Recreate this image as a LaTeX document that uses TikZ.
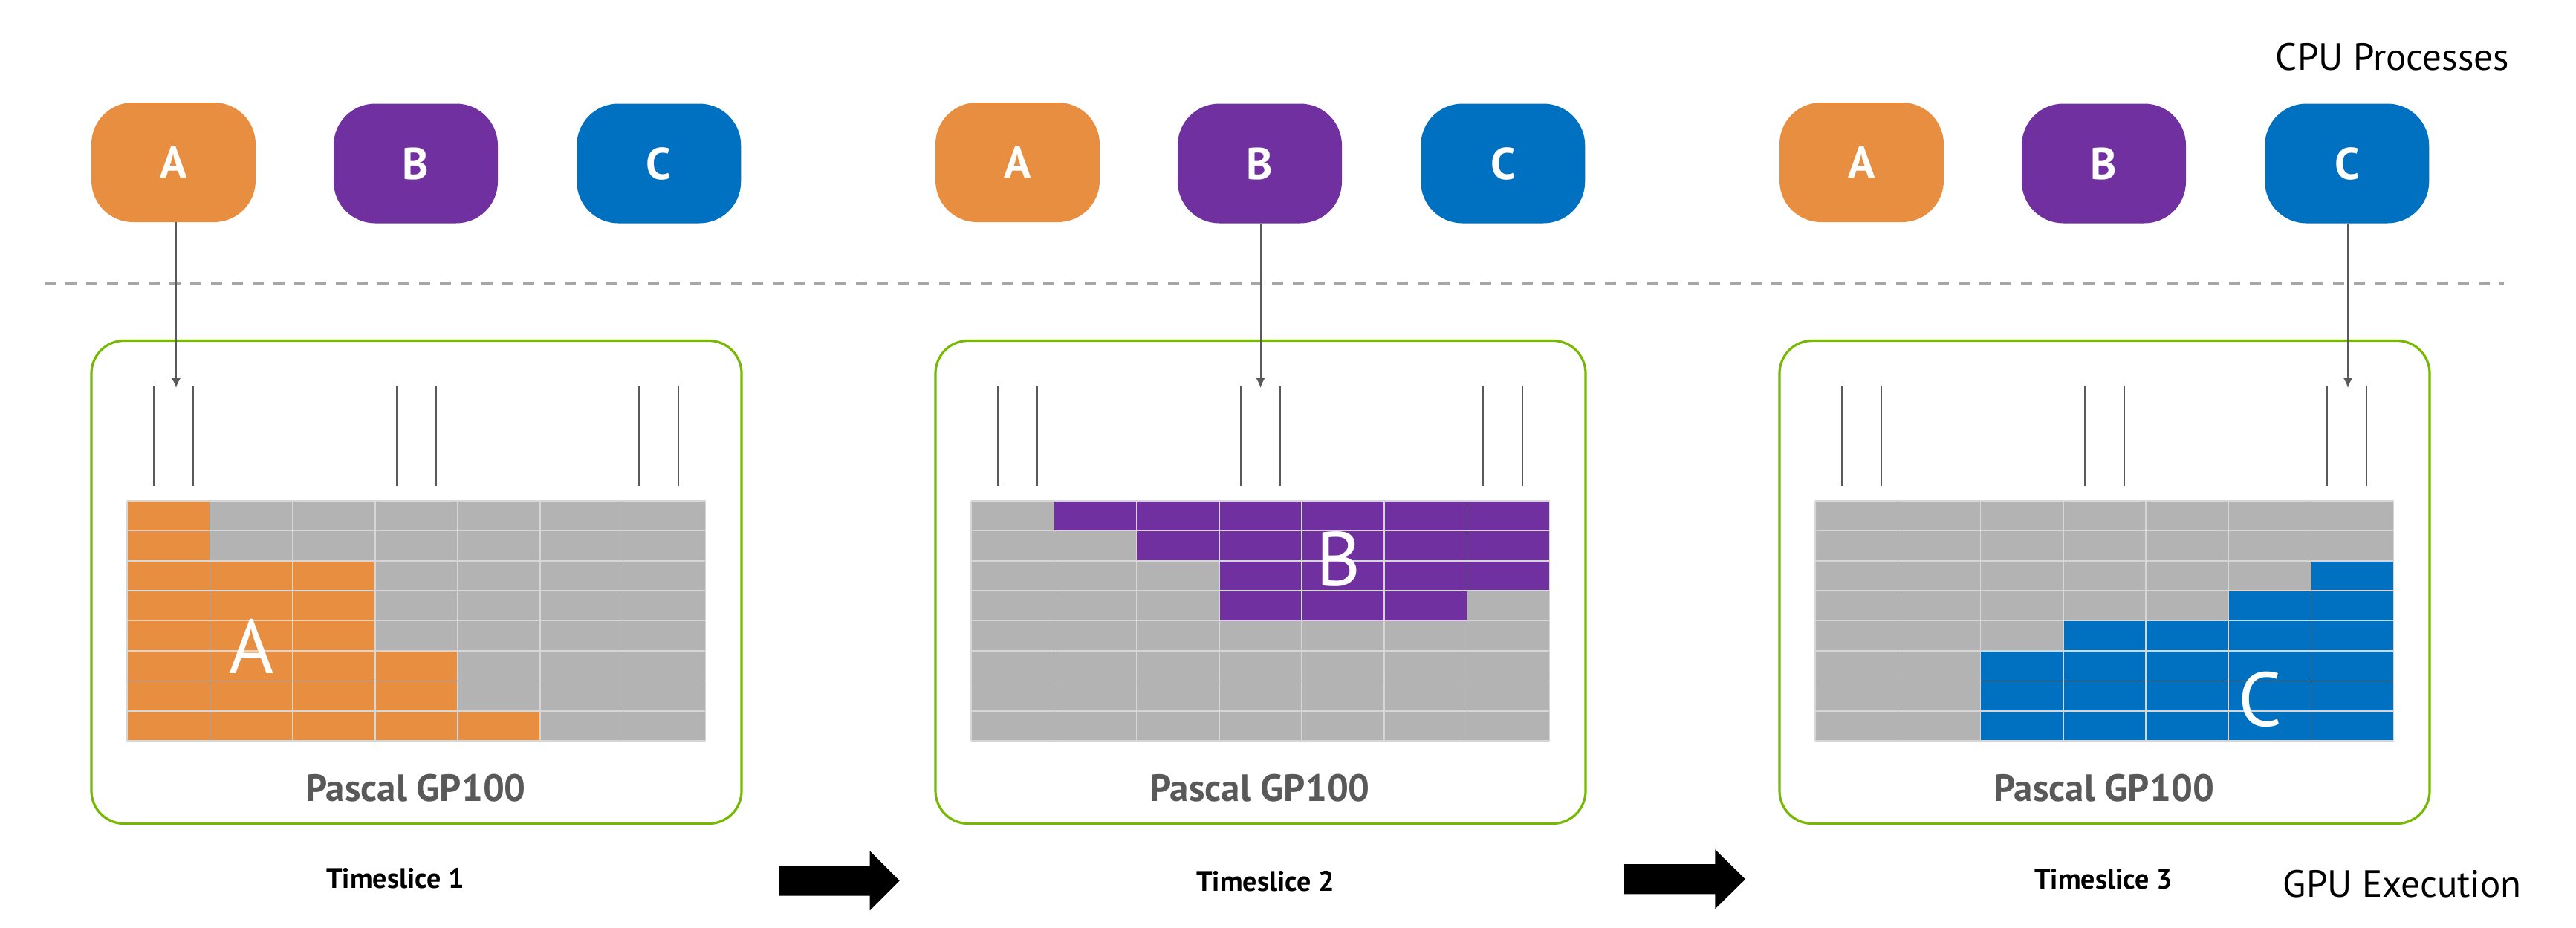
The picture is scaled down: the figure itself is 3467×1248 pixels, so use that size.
\documentclass[tikz,border=0pt]{standalone}
\usepackage{fontspec}
\setmainfont{PT Sans}
\usetikzlibrary{arrows.meta}
\definecolor{nvgreen}{HTML}{76B900}
\definecolor{procA}{HTML}{E88E40}
\definecolor{procB}{HTML}{7030A0}
\definecolor{procC}{HTML}{0070C0}
\definecolor{cellgray}{HTML}{B3B3B3}
\definecolor{gridline}{HTML}{D6D6D6}
\definecolor{darkline}{HTML}{595959}
\definecolor{dashgray}{HTML}{A6A6A6}
\tikzset{
  procbox/.style={rounded corners=56pt, minimum width=221pt, minimum height=161pt,
    inner sep=0pt, text=white, font=\fontsize{60pt}{70pt}\selectfont\bfseries},
  gpubox/.style={draw=nvgreen, line width=3.2pt, rounded corners=44pt,
    minimum width=875pt, minimum height=650pt, inner sep=0pt},
  tick/.style={draw=darkline, line width=2.5pt},
  cpuarrow/.style={draw=darkline, line width=2pt, -{Latex[length=13pt,width=12pt]}},
  gridstroke/.style={draw=gridline, line width=1.5pt},
  chiplabel/.style={anchor=base, text=darkline, inner sep=0pt,
    font=\fontsize{51pt}{60pt}\selectfont\bfseries},
  slicelabel/.style={anchor=base, text=black, inner sep=0pt,
    font=\fontsize{38pt}{46pt}\selectfont\bfseries},
  sidelabel/.style={anchor=base east, text=black, inner sep=0pt,
    font=\fontsize{51pt}{60pt}\selectfont},
  bigletter/.style={anchor=base, text=white, inner sep=0pt,
    font=\fontsize{103pt}{120pt}\selectfont},
  blockarrow/.style={fill=black},
  sepline/.style={draw=dashgray, line width=3.5pt, dash pattern=on 15pt off 13pt}
}
\begin{document}
\begin{tikzpicture}[x=1pt, y=-1pt]
\useasboundingbox (0,0) rectangle (3467,1248);

% separator
\coordinate (dl) at (60,381);
\coordinate (dr) at (3370,381);
\draw[sepline] (dl) -- (dr);

\foreach \p/\px in {1/0, 2/1136, 3/2272} {
  % CPU processes
  \node[procbox, fill=procA] (A\p) at ({233.5+\px},218.5) {A};
  \node[procbox, fill=procB] (B\p) at ({559.5+\px},220) {B};
  \node[procbox, fill=procC] (C\p) at ({886.75+\px},220) {C};
  % GPU box
  \node[gpubox] (G\p) at ({560.5+\px},783.5) {};
  % ticks
  \foreach \tx in {207.6, 260, 534.6, 587, 860, 913} {
    \draw[tick] ({\tx+\px},519) -- ({\tx+\px},654);
  }
  % grid background
  \fill[cellgray] ({171.2+\px},674) rectangle ({949.6+\px},997.2);
  % chip label
  \node[chiplabel] (L\p) at ({559.5+\px},1078.5) {Pascal GP100};
}

% coloured cells (units: cells)
\begin{scope}[shift={(171.2,674)}, x=111.2pt, y=-40.4pt]
  \fill[procA] (0,0) rectangle (1,2);
  \fill[procA] (0,2) rectangle (3,5);
  \fill[procA] (0,5) rectangle (4,7);
  \fill[procA] (0,7) rectangle (5,8);
\end{scope}
\begin{scope}[shift={(1307.2,674)}, x=111.2pt, y=-40.4pt]
  \fill[procB] (1,0) rectangle (7,1);
  \fill[procB] (2,1) rectangle (7,2);
  \fill[procB] (3,2) rectangle (7,3);
  \fill[procB] (3,3) rectangle (6,4);
\end{scope}
\begin{scope}[shift={(2443.2,674)}, x=111.2pt, y=-40.4pt]
  \fill[procC] (6,2) rectangle (7,3);
  \fill[procC] (5,3) rectangle (7,4);
  \fill[procC] (3,4) rectangle (7,5);
  \fill[procC] (2,5) rectangle (7,8);
\end{scope}

% grid lines
\foreach \px in {0, 1136, 2272} {
  \begin{scope}[shift={({171.2+\px},674)}, x=111.2pt, y=-40.4pt]
    \foreach \i in {0,...,7} { \draw[gridstroke] (\i,0) -- (\i,8); }
    \foreach \j in {0,...,8} { \draw[gridstroke] (0,\j) -- (7,\j); }
  \end{scope}
}

% big letters in grids
\node[bigletter] (bigA) at (339,906.6) {A};
\node[bigletter] (bigB) at (1801.5,788) {B};
\node[bigletter] (bigC) at (3042,977) {C};

% CPU -> GPU arrows
\coordinate (t1) at (237,522);
\coordinate (t2) at (1696.5,522);
\coordinate (t3) at (3160,522);
\draw[cpuarrow] (A1.south -| t1) -- (t1);
\draw[cpuarrow] (B2.south -| t2) -- (t2);
\draw[cpuarrow] (C3.south -| t3) -- (t3);

% timeslice labels
\node[slicelabel] (ts1) at (532,1195) {Timeslice 1};
\node[slicelabel] (ts2) at (1703,1199) {Timeslice 2};
\node[slicelabel] (ts3) at (2831,1196) {Timeslice 3};

% block arrows
\fill[blockarrow] (1048.3,1165.3) -- (1170.7,1165.3) -- (1170.7,1145.3) -- (1210.7,1185.3)
  -- (1170.7,1225.3) -- (1170.7,1205.7) -- (1048.3,1205.7) -- cycle;
\fill[blockarrow] (2186,1163) -- (2308.3,1163) -- (2308.3,1143.3) -- (2349,1183.3)
  -- (2308.3,1223.3) -- (2308.3,1203.3) -- (2186,1203.3) -- cycle;

% side labels
\node[sidelabel] (cpu) at (3377,94) {CPU Processes};
\node[sidelabel] (gpu) at (3394,1207) {GPU Execution};
\end{tikzpicture}
\end{document}
